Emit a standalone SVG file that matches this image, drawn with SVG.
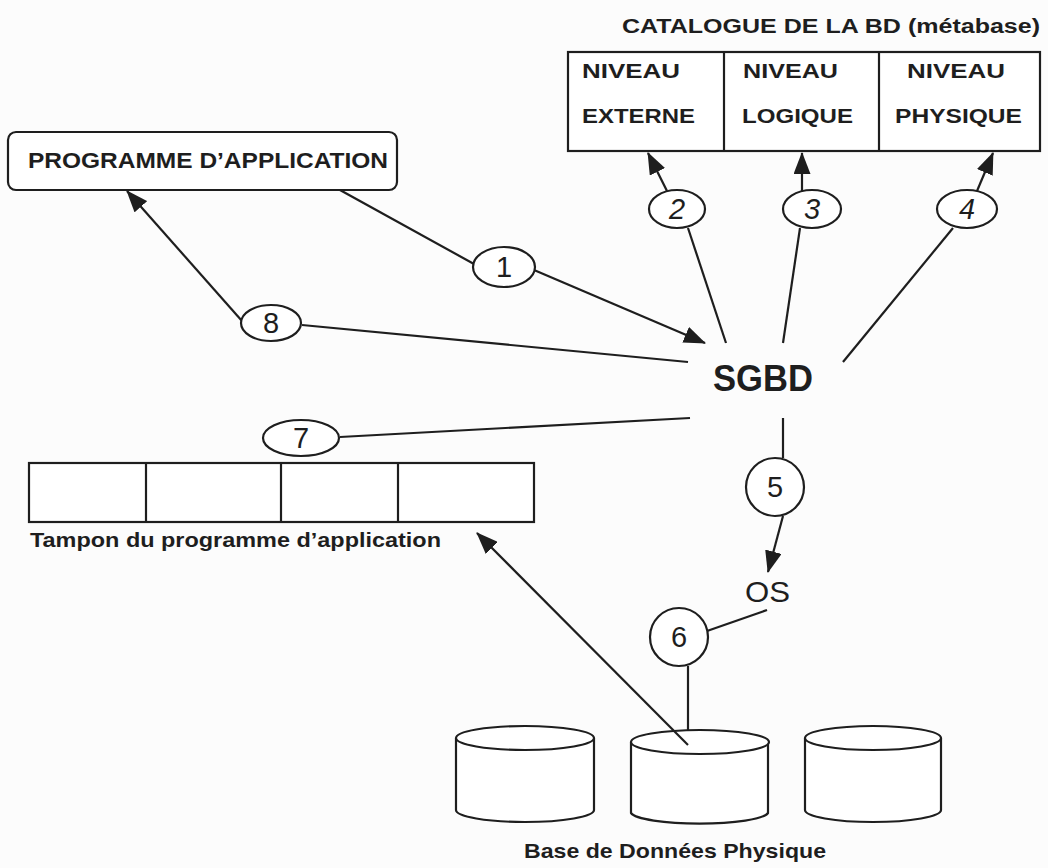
<svg xmlns="http://www.w3.org/2000/svg" width="1048" height="868" viewBox="0 0 1048 868">
  <style>
    .ln { fill: none; stroke: #1e1e1e; stroke-width: 2.2; }
    .bx { fill: #ffffff; stroke: #1e1e1e; stroke-width: 2.2; }
    .t { font-family: "Comic Sans MS", "Liberation Sans", sans-serif; font-weight: bold; fill: #1e1e1e; }
    .num { font-family: "Comic Sans MS", "Liberation Sans", sans-serif; font-size: 29px; fill: #1e1e1e; text-anchor: middle; }
    .it { font-style: italic; }
  </style>
  <defs>
    <marker id="arrow" markerUnits="userSpaceOnUse" markerWidth="22" markerHeight="17" refX="21" refY="8.5" orient="auto">
      <path d="M0,0 L22,8.5 L0,17 z" fill="#1e1e1e"/>
    </marker>
  </defs>

  <rect width="1048" height="868" fill="#fcfcfc"/>

  <!-- connectors -->
  <g id="connectors">
    <!-- 1: application program to DBMS -->
    <line class="ln" x1="340" y1="190" x2="474" y2="264"/>
    <line class="ln" x1="534" y1="270" x2="705" y2="343" marker-end="url(#arrow)"/>
    <!-- 2, 3, 4: DBMS to catalogue levels -->
    <line class="ln" x1="726" y1="343" x2="688" y2="228"/>
    <line class="ln" x1="667" y1="191" x2="648" y2="153" marker-end="url(#arrow)"/>
    <line class="ln" x1="783" y1="343" x2="800" y2="228"/>
    <line class="ln" x1="802" y1="191" x2="802" y2="153" marker-end="url(#arrow)"/>
    <line class="ln" x1="843" y1="362" x2="953" y2="228"/>
    <line class="ln" x1="977" y1="191" x2="993" y2="153" marker-end="url(#arrow)"/>
    <!-- 8: DBMS back to application program -->
    <line class="ln" x1="688" y1="362" x2="302" y2="325"/>
    <line class="ln" x1="242" y1="321" x2="127" y2="191" marker-end="url(#arrow)"/>
    <!-- 7: DBMS to buffer -->
    <line class="ln" x1="690" y1="418" x2="340" y2="437"/>
    <!-- 5: DBMS to OS -->
    <line class="ln" x1="783" y1="418" x2="783" y2="458"/>
    <line class="ln" x1="783" y1="516" x2="768" y2="572" marker-end="url(#arrow)"/>
    <!-- 6: OS to physical database -->
    <line class="ln" x1="767" y1="610" x2="707" y2="631"/>
    <line class="ln" x1="688" y1="666" x2="688" y2="745"/>
  </g>

  <!-- catalogue -->
  <g id="catalogue">
    <text class="t" x="622" y="33" font-size="20" textLength="418" lengthAdjust="spacingAndGlyphs">CATALOGUE DE LA BD (métabase)</text>
    <rect class="bx" x="568" y="52" width="472" height="99"/>
    <line class="ln" x1="724" y1="52" x2="724" y2="151"/>
    <line class="ln" x1="879" y1="52" x2="879" y2="151"/>
    <g id="niveau-externe">
      <text class="t" x="582" y="78" font-size="20" textLength="98" lengthAdjust="spacingAndGlyphs">NIVEAU</text>
      <text class="t" x="582" y="123" font-size="20" textLength="113" lengthAdjust="spacingAndGlyphs">EXTERNE</text>
    </g>
    <g id="niveau-logique">
      <text class="t" x="743" y="78" font-size="20" textLength="95" lengthAdjust="spacingAndGlyphs">NIVEAU</text>
      <text class="t" x="742" y="123" font-size="20" textLength="111" lengthAdjust="spacingAndGlyphs">LOGIQUE</text>
    </g>
    <g id="niveau-physique">
      <text class="t" x="907" y="78" font-size="20" textLength="98" lengthAdjust="spacingAndGlyphs">NIVEAU</text>
      <text class="t" x="895" y="123" font-size="20" textLength="127" lengthAdjust="spacingAndGlyphs">PHYSIQUE</text>
    </g>
  </g>

  <!-- application program -->
  <g id="programme">
    <rect class="bx" x="8" y="132" width="389" height="58" rx="8"/>
    <text class="t" x="28" y="168" font-size="22" textLength="360" lengthAdjust="spacingAndGlyphs">PROGRAMME D’APPLICATION</text>
  </g>

  <!-- DBMS -->
  <g id="sgbd">
    <text class="t" x="713" y="391" font-size="36" textLength="100" lengthAdjust="spacingAndGlyphs">SGBD</text>
  </g>

  <!-- operating system -->
  <g id="os">
    <text x="745" y="602" font-family="'Comic Sans MS', 'Liberation Sans', sans-serif" font-size="30" fill="#1e1e1e" textLength="45" lengthAdjust="spacingAndGlyphs">OS</text>
  </g>

  <!-- application program buffer -->
  <g id="tampon">
    <rect class="bx" x="29" y="463" width="505" height="59"/>
    <line class="ln" x1="146" y1="463" x2="146" y2="522"/>
    <line class="ln" x1="281" y1="463" x2="281" y2="522"/>
    <line class="ln" x1="398" y1="463" x2="398" y2="522"/>
    <text class="t" x="30" y="547" font-size="20" textLength="411" lengthAdjust="spacingAndGlyphs">Tampon du programme d’application</text>
  </g>

  <!-- physical database -->
  <g id="base-physique">
    <g id="disque-1">
      <path class="bx" d="M456,738 L456,810 A69,12 0 0 0 594,810 L594,738"/>
      <ellipse class="bx" cx="525" cy="738" rx="69" ry="12"/>
    </g>
    <g id="disque-2">
      <path class="bx" d="M631,742 L631,813 A69,12 0 0 0 768,813 L768,742"/>
      <ellipse class="bx" cx="700" cy="742" rx="69" ry="12"/>
    </g>
    <g id="disque-3">
      <path class="bx" d="M805,738 L805,810 A68,12 0 0 0 941,810 L941,738"/>
      <ellipse class="bx" cx="873" cy="738" rx="68" ry="12"/>
    </g>
    <text class="t" x="524" y="858" font-size="21" textLength="302" lengthAdjust="spacingAndGlyphs">Base de Données Physique</text>
  </g>

  <!-- arrow from the physical database to the buffer, drawn over the disk -->
  <g id="connector-6-return">
    <line class="ln" x1="688" y1="745" x2="477" y2="533" marker-end="url(#arrow)"/>
  </g>

  <!-- numbered step labels -->
  <g id="step-1"><ellipse class="bx" cx="504" cy="267" rx="31" ry="20"/><text class="num" x="504" y="277">1</text></g>
  <g id="step-2"><ellipse class="bx" cx="677" cy="209" rx="28" ry="19"/><text class="num it" x="677" y="219">2</text></g>
  <g id="step-3"><ellipse class="bx" cx="812" cy="209" rx="29" ry="19"/><text class="num it" x="812" y="219">3</text></g>
  <g id="step-4"><ellipse class="bx" cx="967" cy="209" rx="30" ry="19"/><text class="num it" x="967" y="219">4</text></g>
  <g id="step-5"><circle class="bx" cx="775" cy="487" r="29"/><text class="num" x="775" y="497">5</text></g>
  <g id="step-6"><circle class="bx" cx="679" cy="637" r="29"/><text class="num" x="679" y="647">6</text></g>
  <g id="step-7"><ellipse class="bx" cx="301" cy="438" rx="38" ry="18"/><text class="num" x="301" y="448">7</text></g>
  <g id="step-8"><ellipse class="bx" cx="271" cy="323" rx="30" ry="18"/><text class="num" x="271" y="333">8</text></g>
</svg>
